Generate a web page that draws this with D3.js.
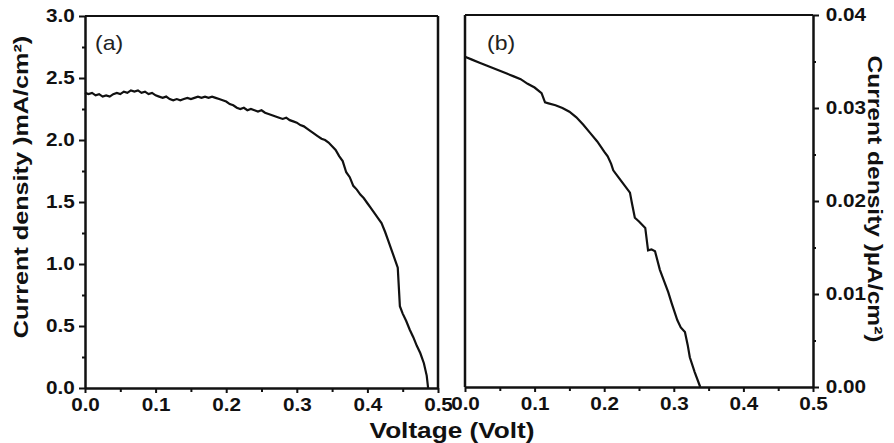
<!DOCTYPE html>
<html>
<head>
<meta charset="utf-8">
<script src="https://cdn.jsdelivr.net/npm/d3@7"></script>
<style>
  body { margin: 0; background: #fff; }
  svg text { font-family: "Liberation Sans", Arial, sans-serif; }
</style>
</head>
<body>
<svg id="chart" width="894" height="443"></svg>
<script>
// panel (a): current density in mA/cm2
let voltageA = [0, 0.005, 0.01, 0.015, 0.02, 0.025, 0.03, 0.035, 0.04, 0.045, 0.05, 0.055, 0.06, 0.065, 0.07, 0.075, 0.08, 0.085, 0.09, 0.095,
  0.1, 0.105, 0.11, 0.115, 0.12, 0.125, 0.13, 0.135, 0.14, 0.145, 0.15, 0.155, 0.16, 0.165, 0.17, 0.175, 0.18, 0.185, 0.19, 0.195,
  0.2, 0.205, 0.21, 0.215, 0.22, 0.225, 0.23, 0.235, 0.24, 0.245, 0.25, 0.255, 0.26, 0.265, 0.27, 0.275, 0.28, 0.285, 0.29, 0.295,
  0.3, 0.305, 0.31, 0.315, 0.32, 0.325, 0.33, 0.335, 0.34, 0.345, 0.35, 0.355, 0.36, 0.365, 0.37, 0.375, 0.38, 0.385, 0.39, 0.395,
  0.4, 0.405, 0.41, 0.415, 0.42, 0.425, 0.43, 0.435, 0.44, 0.443, 0.446, 0.45, 0.455, 0.46, 0.465, 0.47, 0.475, 0.48, 0.484, 0.486]
let currentA = [2.38, 2.37, 2.38, 2.36, 2.37, 2.35, 2.36, 2.35, 2.37, 2.38, 2.37, 2.39, 2.38, 2.40, 2.39, 2.40, 2.38, 2.39, 2.37, 2.38,
  2.36, 2.35, 2.34, 2.35, 2.33, 2.32, 2.33, 2.32, 2.33, 2.34, 2.33, 2.34, 2.35, 2.34, 2.35, 2.34, 2.35, 2.34, 2.33, 2.32,
  2.31, 2.29, 2.28, 2.26, 2.25, 2.26, 2.24, 2.25, 2.24, 2.23, 2.24, 2.22, 2.21, 2.20, 2.19, 2.18, 2.17, 2.18, 2.16, 2.15,
  2.14, 2.12, 2.11, 2.09, 2.07, 2.05, 2.03, 2.01, 2.00, 1.98, 1.95, 1.92, 1.87, 1.83, 1.74, 1.70, 1.63, 1.60, 1.56, 1.53,
  1.49, 1.45, 1.41, 1.37, 1.33, 1.26, 1.18, 1.10, 1.02, 0.97, 0.66, 0.60, 0.54, 0.47, 0.41, 0.34, 0.28, 0.20, 0.10, 0.00]

// panel (b): current density in uA/cm2
let voltageB = [0, 0.01, 0.02, 0.03, 0.04, 0.05, 0.06, 0.07, 0.08, 0.09, 0.1, 0.11, 0.115, 0.12, 0.13, 0.14, 0.15, 0.16, 0.17, 0.18,
  0.19, 0.2, 0.205, 0.21, 0.213, 0.22, 0.23, 0.237, 0.24, 0.244, 0.25, 0.259, 0.263, 0.268, 0.273, 0.28, 0.287, 0.292, 0.297, 0.305,
  0.31, 0.316, 0.32, 0.323, 0.33, 0.338]
let currentB = [0.0355, 0.0352, 0.0349, 0.0346, 0.0343, 0.0340, 0.0337, 0.0334, 0.0331, 0.0326, 0.0322, 0.0316, 0.0306, 0.0305, 0.0303, 0.0300, 0.0296, 0.0290, 0.0282, 0.0273,
  0.0264, 0.0253, 0.0248, 0.0240, 0.0233, 0.0226, 0.0216, 0.0209, 0.0197, 0.0182, 0.0178, 0.0171, 0.0147, 0.0148, 0.0146, 0.0126, 0.0112, 0.0102, 0.0090, 0.0072,
  0.0064, 0.0059, 0.0045, 0.0032, 0.0016, 0.0000]

let xTicks = [0, 0.1, 0.2, 0.3, 0.4, 0.5]
let yTicksA = [0, 0.5, 1.0, 1.5, 2.0, 2.5, 3.0]
let yTicksB = [0, 0.01, 0.02, 0.03, 0.04]

// the source figure is a bit wider than tall, so text gets stretched sideways
let stretch = 1.15

let svg = d3.select('#chart')

let xA = d3.scaleLinear().domain([0, 0.5]).range([85, 438])
let yA = d3.scaleLinear().domain([0, 3]).range([388, 16])
let xB = d3.scaleLinear().domain([0, 0.5]).range([465, 813])
let yB = d3.scaleLinear().domain([0, 0.04]).range([387, 15])

function styleAxis(g, width) {
    g.select('.domain').attr('stroke', '#111').attr('stroke-width', width)
    g.selectAll('.tick line').attr('stroke', '#111').attr('stroke-width', 2)
    g.selectAll('.tick text')
        .attr('font-size', 18).attr('font-weight', 'bold')
        .attr('font-family', '"Liberation Sans", Arial, sans-serif')
        .attr('fill', '#111')
        .attr('transform', 'scale(' + stretch + ',1)')
}

function minorTicks(scale, values, make, len) {
    // small unlabeled ticks halfway between the labeled ones
    let step = values[1] - values[0]
    let mids = values.slice(0, -1).map(v => v + step / 2)
    return make(scale).tickValues(mids).tickSize(len).tickFormat('')
}

function drawPanel(x, y, yTicks, yFmt, side, pad) {
    let x0 = x.range()[0], x1 = x.range()[1]
    let y0 = y.range()[0], y1 = y.range()[1]

    // frame lines without ticks
    let frame = svg.append('g').attr('stroke', '#111').attr('stroke-width', 2).attr('fill', 'none')
    frame.append('line').attr('x1', x0).attr('x2', x1).attr('y1', y1).attr('y2', y1)
    if (side === 'left') {
        frame.append('line').attr('x1', x1).attr('x2', x1).attr('y1', y0).attr('y2', y1).attr('stroke-width', 2.5)
    } else {
        frame.append('line').attr('x1', x0).attr('x2', x0).attr('y1', y0).attr('y2', y1).attr('stroke-width', 2.5)
    }

    // bottom axis
    svg.append('g')
        .attr('transform', 'translate(0,' + y0 + ')')
        .call(minorTicks(x, xTicks, d3.axisBottom, 4))
        .call(g => g.select('.domain').remove())
        .call(g => g.selectAll('.tick line').attr('stroke', '#111').attr('stroke-width', 2))
    svg.append('g')
        .attr('transform', 'translate(0,' + y0 + ')')
        .call(d3.axisBottom(x).tickValues(xTicks).tickFormat(d3.format('.1f')).tickSize(5).tickSizeOuter(0).tickPadding(5))
        .call(g => styleAxis(g, 2.5))

    // value axis
    let make = side === 'left' ? d3.axisLeft : d3.axisRight
    let pos = side === 'left' ? x0 : x1
    svg.append('g')
        .attr('transform', 'translate(' + pos + ',0)')
        .call(minorTicks(y, yTicks, make, 3))
        .call(g => g.select('.domain').remove())
        .call(g => g.selectAll('.tick line').attr('stroke', '#111').attr('stroke-width', 2))
    svg.append('g')
        .attr('transform', 'translate(' + pos + ',0)')
        .call(make(y).tickValues(yTicks).tickFormat(yFmt).tickSize(6).tickSizeOuter(0).tickPadding(pad))
        .call(g => styleAxis(g, 2.5))
}

drawPanel(xA, yA, yTicksA, d3.format('.1f'), 'left', 3)
drawPanel(xB, yB, yTicksB, d3.format('.2f'), 'right', 5)

let lineA = d3.line().x(i => xA(voltageA[i])).y(i => yA(currentA[i]))
let lineB = d3.line().x(i => xB(voltageB[i])).y(i => yB(currentB[i]))

svg.append('path')
    .attr('d', lineA(d3.range(voltageA.length)))
    .attr('fill', 'none').attr('stroke', '#111').attr('stroke-width', 2.2)
svg.append('path')
    .attr('d', lineB(d3.range(voltageB.length)))
    .attr('fill', 'none').attr('stroke', '#111').attr('stroke-width', 2.2)

// panel tags
svg.append('text').attr('transform', 'translate(95,50) scale(' + stretch + ',1)')
    .attr('font-size', 20).attr('fill', '#222').text('(a)')
svg.append('text').attr('transform', 'translate(487,50) scale(' + stretch + ',1)')
    .attr('font-size', 20).attr('fill', '#222').text('(b)')

// axis titles
svg.append('text')
    .attr('transform', 'translate(452,438) scale(1.19,1)')
    .attr('text-anchor', 'middle').attr('font-size', 22).attr('font-weight', 'bold').attr('fill', '#111')
    .text('Voltage (Volt)')
svg.append('text')
    .attr('transform', 'translate(28,187) rotate(-90) scale(1.2,1)')
    .attr('text-anchor', 'middle').attr('font-size', 21).attr('font-weight', 'bold').attr('fill', '#111')
    .text('Current density )mA/cm²)')
svg.append('text')
    .attr('transform', 'translate(868,199) rotate(90) scale(1.17,1)')
    .attr('text-anchor', 'middle').attr('font-size', 21).attr('font-weight', 'bold').attr('fill', '#111')
    .text('Current density )µA/cm²)')
</script>
</body>
</html>
